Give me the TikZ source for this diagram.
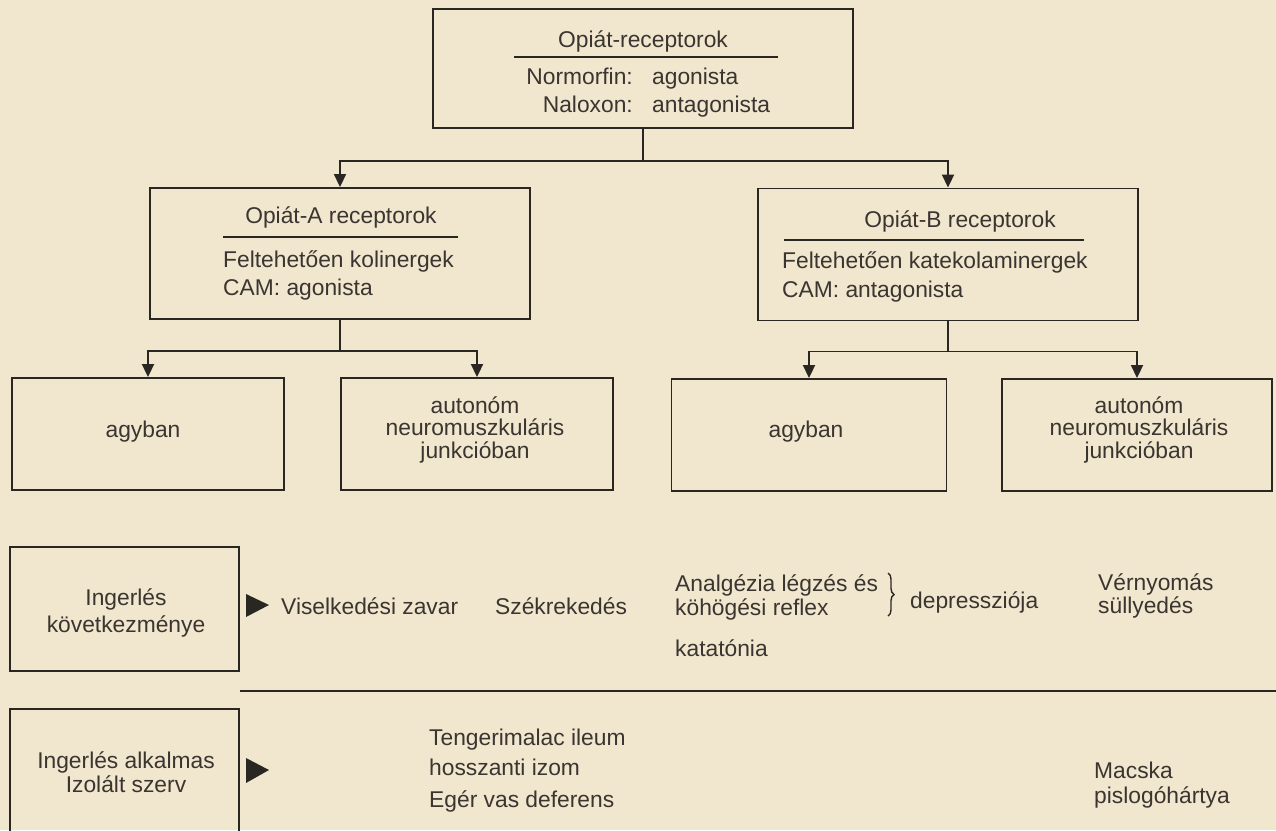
\documentclass[tikz,border=0pt]{standalone}
\usepackage{fontspec}
\setmainfont{Liberation Sans}
\usetikzlibrary{arrows.meta,decorations.pathreplacing,calc}
\definecolor{paper}{RGB}{241,230,206}
\definecolor{ink}{RGB}{42,38,34}
\definecolor{txt}{RGB}{58,53,48}
\begin{document}
\begin{tikzpicture}[x=1pt,y=-1pt,
  box/.style={draw=ink,line width=1.9pt,inner sep=0pt,rectangle},
  lbl/.style={inner sep=0pt,text=txt,font=\fontsize{22.8}{27}\selectfont},
  conn/.style={draw=ink,line width=1.9pt},
  arr/.style={conn,-{Triangle[width=12pt,length=13pt]}},
  rule/.style={draw=ink,line width=1.7pt}]
\fill[paper] (0,0) rectangle (1276,830);
\useasboundingbox (0,0) rectangle (1276,830);
\clip (0,0) rectangle (1276,830);

% boxes
\node[box,minimum width=420pt,minimum height=119pt] (top) at (643,68.5) {};
\node[box,minimum width=380pt,minimum height=131pt] (A) at (340,253.5) {};
\node[box,minimum width=380pt,minimum height=132pt] (B) at (948,254.5) {};
\node[box,minimum width=272pt,minimum height=112pt] (A1) at (148,434) {};
\node[box,minimum width=272pt,minimum height=112pt] (A2) at (477,434) {};
\node[box,minimum width=275pt,minimum height=112pt] (B1) at (809,435) {};
\node[box,minimum width=270pt,minimum height=112pt] (B2) at (1137,435) {};
\node[box,minimum width=229pt,minimum height=124pt] (C1) at (124.5,609) {};
\node[box,minimum width=229pt,minimum height=170pt] (C2) at (124.5,794) {};

% connectors
\coordinate (j0) at ($(top.south)+(0,32)$);
\draw[conn] (top.south) -- (j0);
\draw[arr] (j0) -| (A.north);
\draw[arr] (j0) -| (B.north);
\coordinate (ja) at ($(A.south)+(0,31)$);
\draw[conn] (A.south) -- (ja);
\draw[arr] (ja) -| (A1.north);
\draw[arr] (ja) -| (A2.north);
\coordinate (jb) at ($(B.south)+(0,30)$);
\draw[conn] (B.south) -- (jb);
\draw[arr] (jb) -| (B1.north);
\draw[arr] (jb) -| (B2.north);

% separator line
\coordinate (s0) at (C1.east |- 0,691);
\coordinate (s1) at (1276,691);
\draw[conn] (s0) -- (s1);

% pointer triangles
\fill[ink] (246,594) -- (269,605) -- (246,617) -- cycle;
\fill[ink] (246,758) -- (269,770) -- (246,783) -- cycle;

% top box text
\node[lbl,anchor=base] (t1) at (643,47) {Opiát-receptorok};
\draw[rule] (514,57) -- (778,57);
\node[lbl,anchor=base east] (t2) at (633,84) {Normorfin:};
\node[lbl,anchor=base west] (t3) at (652,84) {agonista};
\node[lbl,anchor=base east] (t4) at (633,112) {Naloxon:};
\node[lbl,anchor=base west] (t5) at (652,112) {antagonista};

% A box text
\node[lbl,anchor=base] (a1) at (341,223) {Opiát-A receptorok};
\draw[rule] (223,237) -- (458,237);
\node[lbl,anchor=base west] (a2) at (223,267) {Feltehetően kolinergek};
\node[lbl,anchor=base west] (a3) at (223,295) {CAM: agonista};

% B box text
\node[lbl,anchor=base] (b1) at (960,227) {Opiát-B receptorok};
\draw[rule] (784,240) -- (1084,240);
\node[lbl,anchor=base west] (b2) at (782,268) {Feltehetően katekolaminergek};
\node[lbl,anchor=base west] (b3) at (782,297) {CAM: antagonista};

% second level boxes text
\node[lbl,anchor=base] (a1t) at (143,437) {agyban};
\node[lbl,anchor=base] (a2t1) at (475,413) {autonóm};
\node[lbl,anchor=base] (a2t2) at (475,435) {neuromuszkuláris};
\node[lbl,anchor=base] (a2t3) at (475,458) {junkcióban};
\node[lbl,anchor=base] (b1t) at (806,437) {agyban};
\node[lbl,anchor=base] (b2t1) at (1139,413) {autonóm};
\node[lbl,anchor=base] (b2t2) at (1139,435) {neuromuszkuláris};
\node[lbl,anchor=base] (b2t3) at (1139,458) {junkcióban};

% C1 row
\node[lbl,anchor=base] (c1a) at (126,605) {Ingerlés};
\node[lbl,anchor=base] (c1b) at (126,632) {következménye};
\node[lbl,anchor=base west] (e1) at (281,614) {Viselkedési zavar};
\node[lbl,anchor=base west] (e2) at (495,614) {Székrekedés};
\node[lbl,anchor=base west] (e3) at (675,591) {Analgézia légzés és};
\node[lbl,anchor=base west] (e4) at (675,615) {köhögési reflex};
\draw[ink,line width=1.4pt,decorate,decoration={brace,amplitude=6pt}] (888,573) -- (888,616);
\node[lbl,anchor=base west] (e5) at (910,608) {depressziója};
\node[lbl,anchor=base west] (e6) at (675,656) {katatónia};
\node[lbl,anchor=base west] (e7) at (1098,590) {Vérnyomás};
\node[lbl,anchor=base west] (e8) at (1098,613) {süllyedés};

% C2 row
\node[lbl,anchor=base] (c2a) at (126,768) {Ingerlés alkalmas};
\node[lbl,anchor=base] (c2b) at (126,792) {Izolált szerv};
\node[lbl,anchor=base west] (f1) at (429,745) {Tengerimalac ileum};
\node[lbl,anchor=base west] (f2) at (429,775) {hosszanti izom};
\node[lbl,anchor=base west] (f3) at (429,807) {Egér vas deferens};
\node[lbl,anchor=base west] (f4) at (1094,778) {Macska};
\node[lbl,anchor=base west] (f5) at (1094,803) {pislogóhártya};
\end{tikzpicture}
\end{document}
